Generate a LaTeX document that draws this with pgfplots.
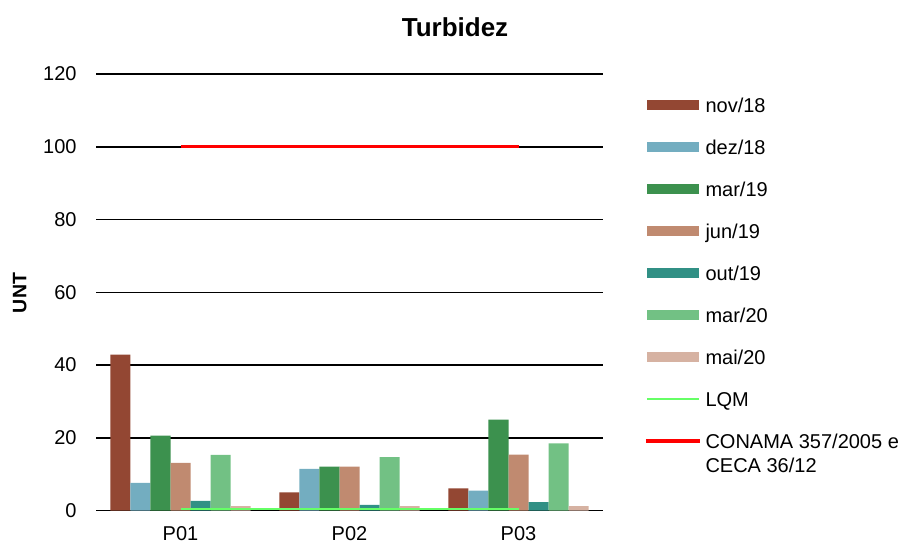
\documentclass[border=0pt]{standalone}
\usepackage{pgfplots}
\usepackage{pgfplotstable}
\pgfplotsset{compat=1.18}
\usepackage{fontspec}
\setmainfont{Liberation Sans}
\definecolor{c1}{HTML}{934733}
\definecolor{c2}{HTML}{73ADC0}
\definecolor{c3}{HTML}{3C914E}
\definecolor{c4}{HTML}{C08A70}
\definecolor{c5}{HTML}{319085}
\definecolor{c6}{HTML}{72C184}
\definecolor{c7}{HTML}{D6B2A2}
\definecolor{lqm}{HTML}{66FF66}
\pgfplotstableread{
x nov18 dez18 mar19 jun19 out19 mar20 mai20
1 42.9 7.6 20.6 13.1 2.7 15.3 1.2
2 5.0 11.5 12.1 12.1 1.6 14.7 1.2
3 6.1 5.5 25.0 15.4 2.3 18.5 1.2
}\data
\newcommand\fsz{\fontsize{20}{24}\selectfont}
\pgfplotsset{
  mybar/.style 2 args={ybar, bar width=20pt, bar shift=#1, fill=#2, draw=none,
    legend image code/.code={\fill[#2] (0pt,-5pt) rectangle (52pt,5pt);}},
}
\begin{document}
\begin{tikzpicture}
\path[use as bounding box] (0,0) rectangle (914pt,544pt);
\node[font=\bfseries\fontsize{26}{30}\selectfont] at (455pt,517pt) {Turbidez};
\node[font=\bfseries\fontsize{19.5}{22}\selectfont, rotate=90] at (19.7pt,251pt) {UNT};
\begin{axis}[
  at={(96pt,33.4pt)}, anchor=south west,
  scale only axis, width=507pt, height=436.6pt,
  xmin=0.5, xmax=3.5, ymin=0, ymax=120,
  clip=false,
  axis lines*=left,
  y axis line style={draw=none},
  x axis line style={black, line width=1.5pt},
  xtick={1,2,3}, xticklabels={P01,P02,P03},
  minor xtick={0.5,1.5,2.5,3.5},
  ytick={0,20,...,120},
  tick align=outside,
  major tick length=0pt,
  minor tick length=6pt,
  xtick style={draw=none},
  ytick style={draw=none},
  minor x tick style={black, line width=1.2pt},
  ymajorgrids,
  major grid style={black, line width=1.5pt},
  tick label style={font=\fsz},
  /pgf/number format/assume math mode=true,
  xticklabel style={anchor=north, inner sep=0pt, yshift=-16pt},
  yticklabel style={anchor=east, inner sep=0pt, xshift=-19.3pt},
  legend style={draw=none, fill=none, inner sep=0pt, outer sep=0pt,
    at={(1.0809,0.9454)}, anchor=north west, row sep=27.7pt,
    font=\fsz,
    nodes={inner sep=0pt, inner xsep=0pt, text height=14.3pt, text depth=0pt},
    /tikz/every odd column/.append style={column sep=4pt}},
  legend cell align=left,
]
\addplot[mybar={-60pt}{c1}] table[x=x,y=nov18]{\data};
\addlegendentry{nov/18}
\addplot[mybar={-40pt}{c2}] table[x=x,y=dez18]{\data};
\addlegendentry{dez/18}
\addplot[mybar={-20pt}{c3}] table[x=x,y=mar19]{\data};
\addlegendentry{mar/19}
\addplot[mybar={0pt}{c4}] table[x=x,y=jun19]{\data};
\addlegendentry{jun/19}
\addplot[mybar={20pt}{c5}] table[x=x,y=out19]{\data};
\addlegendentry{out/19}
\addplot[mybar={40pt}{c6}] table[x=x,y=mar20]{\data};
\addlegendentry{mar/20}
\addplot[mybar={60pt}{c7}] table[x=x,y=mai20]{\data};
\addlegendentry{mai/20}
\addplot[color=lqm, line width=2pt,
  legend image code/.code={\draw[lqm, line width=2pt] (0pt,0pt) -- (52pt,0pt);}]
  coordinates {(1,0.5) (3,0.5)};
\addlegendentry{LQM}
\addplot[color=red, line width=3pt,
  legend image code/.code={\draw[red, line width=3.5pt] (-1pt,0pt) -- (53pt,0pt);}]
  coordinates {(1,100) (3,100)};
\addlegendentry{\begin{tabular}[t]{@{}l@{}}CONAMA 357/2005 e\\CECA 36/12\end{tabular}}
\end{axis}
\end{tikzpicture}
\end{document}
